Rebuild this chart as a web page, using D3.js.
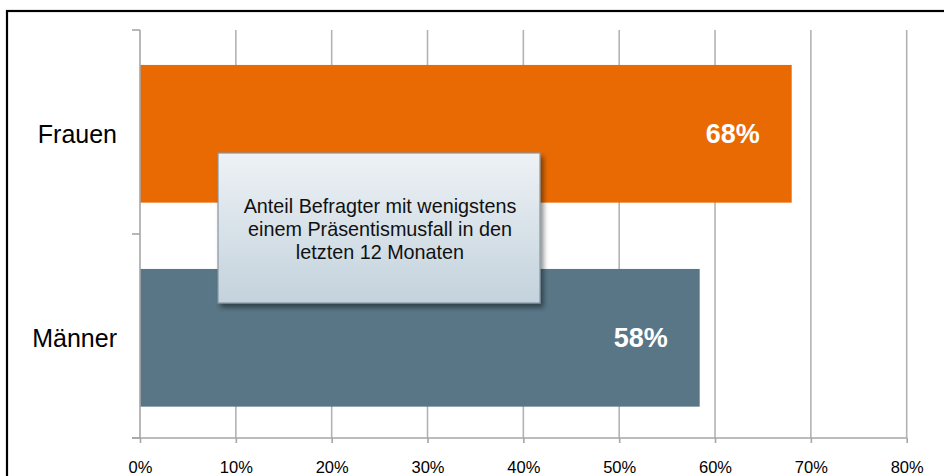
<!DOCTYPE html>
<html>
<head>
<meta charset="utf-8">
<script src="https://cdn.jsdelivr.net/npm/d3@7/dist/d3.min.js"></script>
<style>
  html, body { margin: 0; padding: 0; background: #fff; }
  svg { display: block; font-family: "Liberation Sans", Arial, sans-serif; }
</style>
</head>
<body>
<svg id="chart" width="944" height="476"></svg>
<script>
// Share of respondents with at least one presenteeism case, by gender
const categories = ["Frauen", "Männer"];
const values = [68, 58.4];
const barColors = ["#E96A02", "#587686"];
const tickValues = [0, 10, 20, 30, 40, 50, 60, 70, 80];
const noteLines = ["Anteil Befragter mit wenigstens", "einem Präsentismusfall in den", "letzten 12 Monaten"];

const svg = d3.select("#chart");
const W = 944, H = 476;
const plot = { left: 140, right: 906.7, top: 30, bottom: 438 };

// outer frame
svg.append("rect")
  .attr("x", 7).attr("y", 11)
  .attr("width", W + 10).attr("height", H + 10)
  .attr("fill", "none").attr("stroke", "#000").attr("stroke-width", 2.2);

const x = d3.scaleLinear().domain([0, 80]).range([plot.left, plot.right]);
const y = d3.scaleBand().domain(categories).range([plot.top + 1.8, plot.bottom + 1.8])
  .paddingInner(0.325).paddingOuter(0.1625);
const yCat = d3.scaleBand().domain(categories).range([plot.top, plot.bottom]);

// vertical gridlines
svg.append("g").selectAll("line")
  .data(tickValues.filter(d => d > 0))
  .join("line")
  .attr("x1", d => x(d)).attr("x2", d => x(d))
  .attr("y1", plot.top).attr("y2", plot.bottom)
  .attr("stroke", "#b3b3b3").attr("stroke-width", 1.6);

// bars
svg.append("g").selectAll("rect")
  .data(categories)
  .join("rect")
  .attr("x", x(0))
  .attr("y", d => y(d))
  .attr("width", (d, i) => x(values[i]) - x(0))
  .attr("height", y.bandwidth())
  .attr("fill", (d, i) => barColors[i]);

// value labels
svg.append("g").selectAll("text")
  .data(categories)
  .join("text")
  .attr("x", (d, i) => x(values[i]) - 32)
  .attr("y", d => y(d) + y.bandwidth() / 2 + 9.5)
  .attr("text-anchor", "end")
  .attr("fill", "#fff")
  .attr("font-weight", "bold")
  .attr("font-size", 27)
  .text((d, i) => Math.round(values[i]) + "%");

// x axis
const xAxis = svg.append("g")
  .attr("transform", `translate(0,${plot.bottom})`)
  .call(d3.axisBottom(x).tickValues(tickValues).tickFormat(d => d + "%").tickSize(5).tickSizeOuter(0));
xAxis.select(".domain").attr("stroke", "#a6a6a6").attr("stroke-width", 1.6)
  .attr("d", `M${plot.left - 8},0H${plot.right}`);
xAxis.selectAll(".tick line").attr("stroke", "#a6a6a6").attr("stroke-width", 1.6);
xAxis.selectAll(".tick text")
  .attr("fill", "#000").attr("font-size", 16.5)
  .attr("font-family", "Liberation Sans, Arial, sans-serif")
  .attr("dy", "0").attr("y", 35);

// y axis with category boundary ticks
const yAxis = svg.append("g");
yAxis.append("line")
  .attr("x1", plot.left).attr("x2", plot.left)
  .attr("y1", plot.top).attr("y2", plot.bottom)
  .attr("stroke", "#a6a6a6").attr("stroke-width", 1.6);
const bounds = categories.map(d => yCat(d)).concat([plot.bottom]);
yAxis.selectAll("line.tk")
  .data(bounds)
  .join("line").attr("class", "tk")
  .attr("x1", plot.left - 8).attr("x2", plot.left)
  .attr("y1", d => d).attr("y2", d => d)
  .attr("stroke", "#a6a6a6").attr("stroke-width", 1.6);
yAxis.selectAll("text")
  .data(categories)
  .join("text")
  .attr("x", 117)
  .attr("y", d => y(d) + y.bandwidth() / 2 + 9)
  .attr("text-anchor", "end")
  .attr("fill", "#000")
  .attr("font-size", 25)
  .text(d => d);

// annotation box
const defs = svg.append("defs");
const grad = defs.append("linearGradient").attr("id", "noteGrad")
  .attr("x1", 0).attr("y1", 0).attr("x2", 0).attr("y2", 1);
grad.append("stop").attr("offset", "0%").attr("stop-color", "#EEF2F6");
grad.append("stop").attr("offset", "100%").attr("stop-color", "#C3D2DC");
const shadow = defs.append("filter").attr("id", "noteShadow")
  .attr("x", "-10%").attr("y", "-10%").attr("width", "130%").attr("height", "130%");
shadow.append("feDropShadow").attr("dx", 3).attr("dy", 4).attr("stdDeviation", 2.5)
  .attr("flood-color", "#000").attr("flood-opacity", 0.45);

const box = { x: 218, y: 153, w: 322, h: 150 };
svg.append("rect")
  .attr("x", box.x).attr("y", box.y).attr("width", box.w).attr("height", box.h)
  .attr("fill", "url(#noteGrad)")
  .attr("stroke", "#8697A3").attr("stroke-width", 1.2)
  .attr("filter", "url(#noteShadow)");
svg.append("g").selectAll("text")
  .data(noteLines)
  .join("text")
  .attr("x", box.x + box.w / 2 + 1)
  .attr("y", (d, i) => 212.5 + i * 23.2)
  .attr("text-anchor", "middle")
  .attr("fill", "#111")
  .attr("font-size", 19.8)
  .text(d => d);
</script>
</body>
</html>
